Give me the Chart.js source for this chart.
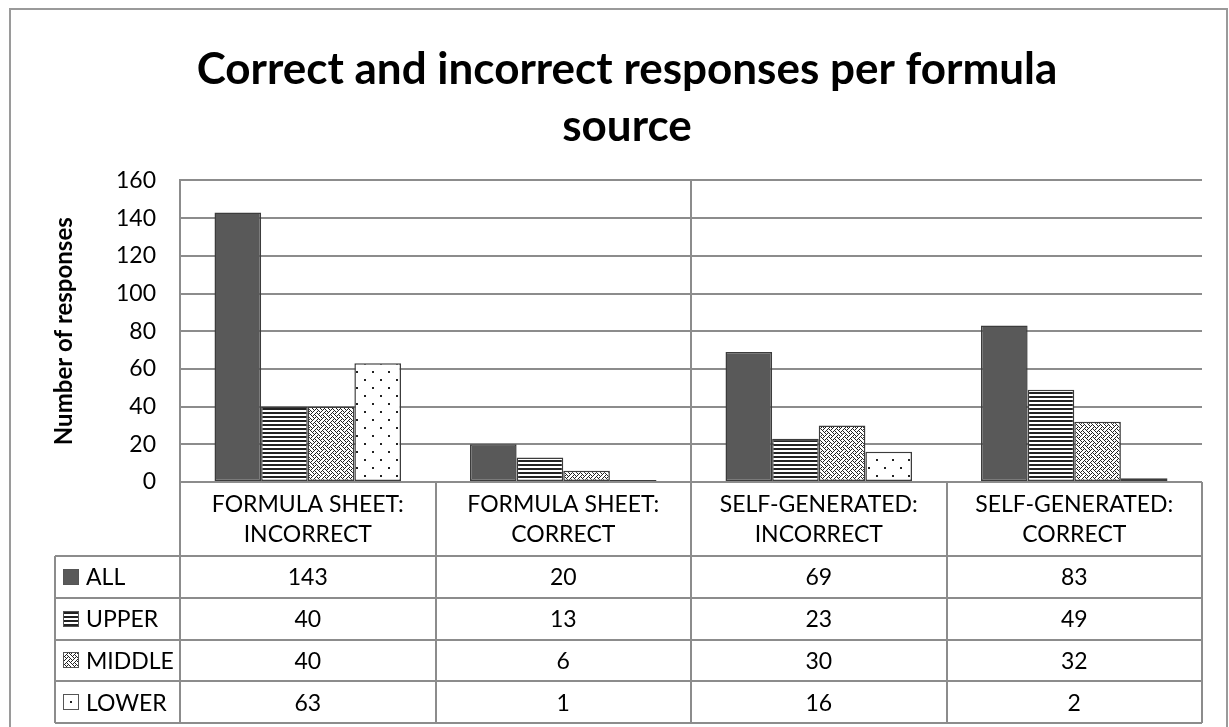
<!DOCTYPE html>
<html>
<head>
<meta charset="utf-8">
<script src="https://cdn.jsdelivr.net/npm/chart.js@4.4.1/dist/chart.umd.min.js"></script>
<style>
  html, body { margin: 0; padding: 0; background: #fff; }
  #wrap { position: relative; width: 1229px; height: 727px; }
</style>
</head>
<body>
<div id="wrap"><canvas id="chart" width="1229" height="727"></canvas></div>
<script>
var titleLines = ['Correct and incorrect responses per formula', 'source'];
var yTitle = 'Number of responses';
var categories = [
    ['FORMULA SHEET:', 'INCORRECT'],
    ['FORMULA SHEET:', 'CORRECT'],
    ['SELF-GENERATED:', 'INCORRECT'],
    ['SELF-GENERATED:', 'CORRECT']
];
var seriesNames = ['ALL', 'UPPER', 'MIDDLE', 'LOWER'];
var allValues = [143, 20, 69, 83];
var upperValues = [40, 13, 23, 49];
var middleValues = [40, 6, 30, 32];
var lowerValues = [63, 1, 16, 2];
var yMin = 0, yMax = 160, yStep = 20;

var gridColor = '#8c8c8c';
var edgeColor = '#3c3c3c';
var fontName = 'Lato, "Liberation Sans", sans-serif';

// tiny tile patterns, like Excel's fills
var makePattern = function(w, h, paint){
    var c = document.createElement('canvas');
    c.width = w; c.height = h;
    var g = c.getContext('2d');
    g.fillStyle = '#fff';
    g.fillRect(0, 0, w, h);
    g.fillStyle = '#222';
    paint(g);
    return g.createPattern(c, 'repeat');
};
var stripes = makePattern(4, 4, function(g){ g.fillRect(0, 0, 4, 2); });
var weaveRows = [0x88, 0x54, 0x22, 0x45, 0x88, 0x15, 0x22, 0x51];
var weave = makePattern(8, 8, function(g){
    weaveRows.forEach(function(bits, r){
        for(var c = 0; c < 8; c++){
            if(bits & (0x80 >> c)) g.fillRect(c, r, 1, 1);
        }
    });
});
var dots = makePattern(16, 16, function(g){
    g.fillRect(4, 3, 2, 2);
    g.fillRect(12, 11, 2, 2);
});
var fills = ['#595959', stripes, weave, dots];
var seriesValues = [allValues, upperValues, middleValues, lowerValues];

var datasets = seriesNames.map(function(name, i){
    return {
        label: name,
        data: seriesValues[i],
        backgroundColor: fills[i],
        borderColor: edgeColor,
        borderWidth: 1.5,
        borderSkipped: false
    };
});

// vertical rule between the 2nd and 3rd category, as in the picture
var midRule = {
    id: 'midRule',
    beforeDatasetsDraw: function(chart){
        var x = chart.scales.x, a = chart.chartArea, ctx = chart.ctx;
        var px = Math.round((x.getPixelForValue(1) + x.getPixelForValue(2)) / 2);
        ctx.save();
        ctx.strokeStyle = gridColor;
        ctx.lineWidth = 2;
        ctx.beginPath();
        ctx.moveTo(px, a.top);
        ctx.lineTo(px, a.bottom);
        ctx.stroke();
        ctx.restore();
    }
};

// small key boxes in the table's first column
var drawKey = function(ctx, s, bx, by, bs){
    ctx.fillStyle = '#fff';
    ctx.fillRect(bx, by, bs, bs);
    if(s === 3){
        ctx.fillStyle = '#222';
        ctx.fillRect(bx + bs / 2 - 1, by + bs / 2 - 1, 2, 2);
    } else {
        ctx.fillStyle = fills[s];
        ctx.fillRect(bx, by, bs, bs);
    }
    ctx.strokeStyle = '#555';
    ctx.lineWidth = 1;
    ctx.strokeRect(bx + 0.5, by + 0.5, bs - 1, bs - 1);
};

// data table under the plot
var dataTable = {
    id: 'dataTable',
    afterDraw: function(chart){
        var ctx = chart.ctx, a = chart.chartArea, x = chart.scales.x;
        var half = (x.getPixelForValue(1) - x.getPixelForValue(0)) / 2;
        var headTop = a.bottom, headBottom = headTop + 74;
        var rowH = 41.75;
        var legLeft = 55;
        var tableBottom = headBottom + rowH * seriesNames.length;
        ctx.save();
        ctx.strokeStyle = gridColor;
        ctx.lineWidth = 2;
        ctx.beginPath();
        ctx.moveTo(a.left, headTop); ctx.lineTo(a.right, headTop);
        for(var r = 0; r <= seriesNames.length; r++){
            var yy = Math.round(headBottom + r * rowH);
            ctx.moveTo(legLeft, yy); ctx.lineTo(a.right, yy);
        }
        ctx.moveTo(legLeft, headBottom); ctx.lineTo(legLeft, tableBottom);
        for(var c = 0; c <= categories.length; c++){
            var xx = Math.round(x.getPixelForValue(c) - half);
            ctx.moveTo(xx, headTop); ctx.lineTo(xx, tableBottom);
        }
        ctx.stroke();

        ctx.fillStyle = '#000';
        ctx.font = '23px ' + fontName;
        ctx.textAlign = 'center';
        ctx.textBaseline = 'middle';
        categories.forEach(function(lines, i){
            var cx = x.getPixelForValue(i);
            ctx.fillText(lines[0], cx, headTop + 23);
            ctx.fillText(lines[1], cx, headTop + 53);
            seriesValues.forEach(function(vals, s){
                ctx.fillText(String(vals[i]), cx, headBottom + rowH * s + rowH / 2 + 1);
            });
        });

        ctx.textAlign = 'left';
        seriesNames.forEach(function(name, s){
            var cy = headBottom + rowH * s + rowH / 2;
            drawKey(ctx, s, 63, Math.round(cy - 8), 16);
            ctx.fillStyle = '#000';
            ctx.fillText(name, 86, cy + 1);
        });
        ctx.restore();
    }
};

// outer frame of the chart
var frame = {
    id: 'frame',
    afterDraw: function(chart){
        var ctx = chart.ctx;
        ctx.save();
        ctx.strokeStyle = '#9a9a9a';
        ctx.lineWidth = 2;
        ctx.strokeRect(10, 9, 1217, 740);
        ctx.restore();
    }
};

new Chart(document.getElementById('chart'), {
    type: 'bar',
    data: { labels: categories, datasets: datasets },
    plugins: [midRule, dataTable, frame],
    options: {
        responsive: false,
        animation: false,
        layout: { padding: { left: 52, right: 27, top: 0, bottom: 245 } },
        datasets: { bar: { categoryPercentage: 0.73, barPercentage: 1.0 } },
        plugins: {
            legend: { display: false },
            tooltip: { enabled: false },
            title: {
                display: true,
                text: titleLines,
                color: '#000',
                font: { family: fontName, size: 44, weight: 'bold', lineHeight: 1.3 },
                padding: { top: 41, bottom: 25 }
            }
        },
        scales: {
            x: {
                ticks: { display: false },
                grid: { display: false, drawTicks: false },
                border: { display: false },
                afterFit: function(scale){ scale.height = 0; }
            },
            y: {
                min: yMin,
                max: yMax,
                ticks: { stepSize: yStep, color: '#000', padding: 24, font: { family: fontName, size: 23 } },
                grid: { color: gridColor, lineWidth: 2, drawTicks: false },
                border: { display: true, color: gridColor, width: 2 },
                title: {
                    display: true,
                    text: yTitle,
                    color: '#000',
                    font: { family: fontName, size: 24, weight: 'bold', lineHeight: 1.0 },
                    padding: { top: 0, bottom: 0 }
                },
                afterFit: function(scale){ scale.width = 128; }
            }
        }
    }
});
</script>
</body>
</html>
